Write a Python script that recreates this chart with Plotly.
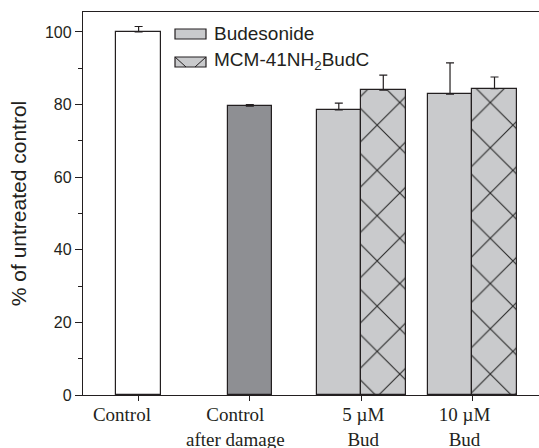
import plotly.graph_objects as go

# ---- data ----
single_labels = ["Control", "Control after damage"]
single_pos = [0, 1]
single_values = [100.0, 79.6]
single_err = [1.5, 0.4]
single_colors = ["#ffffff", "#8e8f93"]

group_pos = [2, 3]
bud_values = [78.5, 82.9]
bud_err = [1.9, 8.6]
mcm_values = [84.0, 84.4]
mcm_err = [4.1, 3.2]

tick_pos = [0, 1, 2, 3]
tick_text = ["Control", "Control<br>after damage", "5 µM<br>Bud", "10 µM<br>Bud"]
label_pos = [-0.15, 0.87, 2.02, 2.93]  # label placement (layout)

series_names = ["Budesonide", "MCM-41NH<sub>2</sub>BudC"]

# ---- style ----
LINE = "#231f20"
LIGHT = "#c9cacc"
W = 0.4

fig = go.Figure()

fig.add_trace(go.Bar(
    x=single_pos, y=single_values, width=W,
    marker=dict(color=single_colors, line=dict(color=LINE, width=1.2)),
    error_y=dict(type="data", array=single_err, arrayminus=[0, 0], symmetric=False,
                 color=LINE, thickness=1.2, width=4),
    showlegend=False, name="controls"))

fig.add_trace(go.Bar(
    x=group_pos, y=bud_values, width=W, offset=-W,
    marker=dict(color=LIGHT, line=dict(color=LINE, width=1.2)),
    error_y=dict(type="data", array=bud_err, arrayminus=[0, 0], symmetric=False,
                 color=LINE, thickness=1.2, width=4),
    showlegend=False, name=series_names[0]))

fig.add_trace(go.Bar(
    x=group_pos, y=mcm_values, width=W, offset=0,
    marker=dict(color=LIGHT, line=dict(color=LINE, width=1.2),
                pattern=dict(shape="x", bgcolor=LIGHT, fgcolor="#2a2a2a",
                             size=32, solidity=0.07, fillmode="replace")),
    error_y=dict(type="data", array=mcm_err, arrayminus=[0, 0], symmetric=False,
                 color=LINE, thickness=1.2, width=4),
    showlegend=False, name=series_names[1]))

# invisible trace to carry the label axis
fig.add_trace(go.Scatter(x=[label_pos[0]], y=[0], xaxis="x2", mode="markers",
                         marker=dict(opacity=0), showlegend=False, hoverinfo="skip"))

# ---- manual legend ----
def px2paper(px, py):
    return (px - 83) / 456, (395 - py) / 383

lx0, ly0 = px2paper(175, 39)
lx1, ly1 = px2paper(206, 29)
fig.add_shape(type="rect", xref="paper", yref="paper", x0=lx0, x1=lx1, y0=ly0, y1=ly1,
              fillcolor=LIGHT, line=dict(color=LINE, width=1.2))
mx0, my0 = px2paper(175, 67)
mx1, my1 = px2paper(206, 57)
fig.add_shape(type="rect", xref="paper", yref="paper", x0=mx0, x1=mx1, y0=my0, y1=my1,
              fillcolor=LIGHT, line=dict(color=LINE, width=1.2))
a0, _ = px2paper(186, 0)
a1, _ = px2paper(195, 0)
fig.add_shape(type="line", xref="paper", yref="paper", x0=mx0, y0=my1, x1=a0, y1=my0,
              line=dict(color=LINE, width=1))
fig.add_shape(type="line", xref="paper", yref="paper", x0=mx1, y0=my1, x1=a1, y1=my0,
              line=dict(color=LINE, width=1))

tx, ty1 = px2paper(212, 34)
_, ty2 = px2paper(212, 61)
for name, ty in zip(series_names, [ty1, ty2]):
    fig.add_annotation(x=tx, y=ty, xref="paper", yref="paper", text=name,
                       showarrow=False, xanchor="left", yanchor="middle",
                       font=dict(family="Liberation Sans, Arial", size=19, color=LINE))

fig.update_layout(
    width=539, height=448,
    margin=dict(l=83, r=0, t=12, b=53, autoexpand=False),
    paper_bgcolor="white", plot_bgcolor="white",
    barmode="overlay", bargap=0,
    xaxis=dict(range=[-0.5, 3.6], tickvals=tick_pos, showticklabels=False,
               showline=True, linecolor=LINE, linewidth=1.3, mirror=True,
               ticks="outside", ticklen=5, tickwidth=1.3, tickcolor=LINE,
               showgrid=False, zeroline=False, automargin=False),
    xaxis2=dict(range=[-0.5, 3.6], overlaying="x", side="bottom", anchor="y",
                tickvals=label_pos, ticktext=tick_text, ticks="", showline=False,
                showgrid=False, zeroline=False, ticklabelstandoff=6, automargin=False,
                tickfont=dict(family="Liberation Serif, Times New Roman", size=19, color=LINE)),
    yaxis=dict(range=[0, 105.5], tickvals=[0, 20, 40, 60, 80, 100],
               showline=True, linecolor=LINE, linewidth=1.3,
               ticks="outside", ticklen=7, tickwidth=1.3, tickcolor=LINE,
               minor=dict(tickvals=[10, 30, 50, 70, 90], ticks="outside", ticklen=4,
                          tickwidth=1.3, tickcolor=LINE),
               showgrid=False, zeroline=False, automargin=False,
               tickfont=dict(family="Liberation Sans, Arial", size=16, color=LINE),
               title=dict(text="% of untreated control", standoff=12,
                          font=dict(family="Liberation Sans, Arial", size=21, color=LINE))),
)

fig.write_html("out.html")
